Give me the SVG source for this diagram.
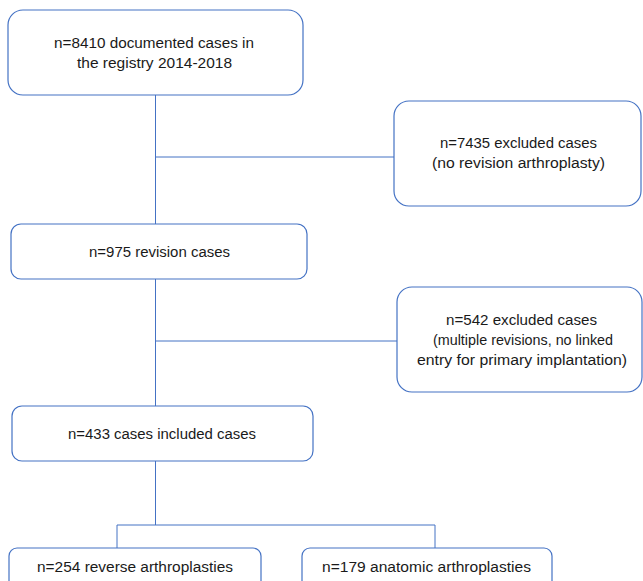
<svg xmlns="http://www.w3.org/2000/svg" width="643" height="581" viewBox="0 0 643 581">
<style>
.box{fill:#fff;stroke:#4472C4;stroke-width:1.2}
.ln{fill:none;stroke:#4472C4;stroke-width:1}
text{font-family:"Liberation Sans",Arial,sans-serif;font-size:14px;fill:#1a1a1a;text-anchor:middle}
</style>
<rect width="643" height="581" fill="#fff"/>
<g id="connectors">
<path class="ln" d="M155.5 95V224M155.5 157H394M155.5 279V406M155.5 341H397M155.5 461V525M117 525H435M117 525V548M435 525V548"/>
</g>
<g id="n1"><rect class="box" x="8" y="10" width="295" height="85" rx="15"/>
<text x="154" y="48" textLength="200" lengthAdjust="spacingAndGlyphs">n=8410 documented cases in</text>
<text x="154.5" y="68" textLength="155" lengthAdjust="spacingAndGlyphs">the registry 2014-2018</text></g>
<g id="n2"><rect class="box" x="394" y="101" width="247" height="105" rx="15"/>
<text x="518.5" y="148" textLength="157" lengthAdjust="spacingAndGlyphs">n=7435 excluded cases</text>
<text x="518.5" y="168" textLength="173" lengthAdjust="spacingAndGlyphs">(no revision arthroplasty)</text></g>
<g id="n3"><rect class="box" x="11" y="224" width="296" height="55" rx="10"/>
<text x="159.5" y="257" textLength="141" lengthAdjust="spacingAndGlyphs">n=975 revision cases</text></g>
<g id="n4"><rect class="box" x="397" y="287" width="245" height="105" rx="15"/>
<text x="521.5" y="325" textLength="151" lengthAdjust="spacingAndGlyphs">n=542 excluded cases</text>
<text x="523" y="345" textLength="180" lengthAdjust="spacingAndGlyphs">(multiple revisions, no linked</text>
<text x="522" y="365" textLength="210" lengthAdjust="spacingAndGlyphs">entry for primary implantation)</text></g>
<g id="n5"><rect class="box" x="12" y="406" width="301" height="55" rx="10"/>
<text x="162" y="439" textLength="188" lengthAdjust="spacingAndGlyphs">n=433 cases included cases</text></g>
<g id="n6"><rect class="box" x="9" y="548" width="252" height="50" rx="8"/>
<text x="135" y="572" textLength="196" lengthAdjust="spacingAndGlyphs">n=254 reverse arthroplasties</text></g>
<g id="n7"><rect class="box" x="302" y="548" width="250" height="50" rx="8"/>
<text x="426.5" y="572" textLength="209" lengthAdjust="spacingAndGlyphs">n=179 anatomic arthroplasties</text></g>
</svg>
